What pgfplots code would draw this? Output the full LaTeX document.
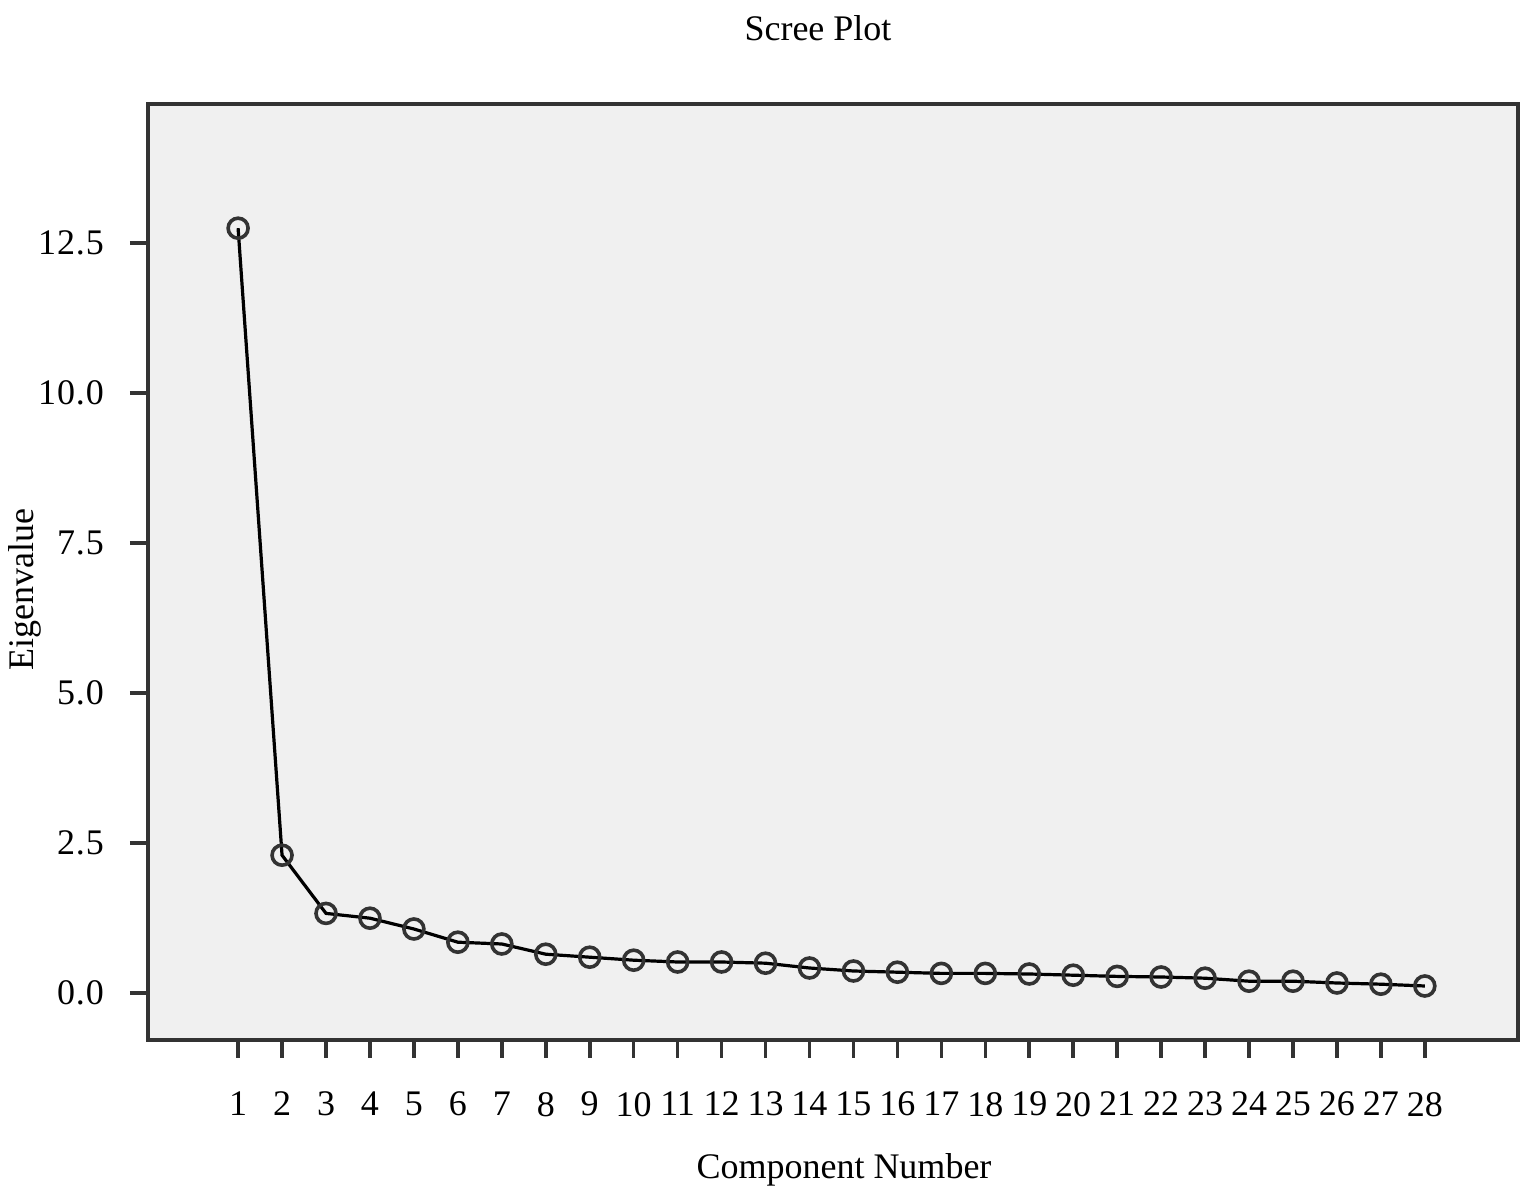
\documentclass[border=0pt]{standalone}
\usepackage{fontspec}
\setmainfont{Liberation Serif}
\usepackage{pgfplots}
\pgfplotsset{compat=1.18}
\definecolor{panel}{HTML}{F0F0F0}
\definecolor{edge}{HTML}{333333}

\begin{document}
\begin{tikzpicture}
\begin{axis}[
  name=ax,
  scale only axis,
  width=342.5pt, height=234pt,
  xmin=-1.05, xmax=30.12,
  ymin=-0.78, ymax=14.82,
  xtick={1,...,28},
  ytick={0,2.5,5,7.5,10,12.5},
  /pgf/number format/assume math mode=true,
  tick align=outside,
  major tick length=4.5pt,
  xtick pos=bottom, ytick pos=left,
  tick style={line width=0.9pt, edge},
  axis line style={line width=1pt, edge},
  axis background/.style={fill=panel},
  xticklabel style={font=\fontsize{9}{11}\selectfont},
  yticklabel style={font=\fontsize{9}{11}\selectfont\addfontfeature{LetterSpace=2.5},
    /pgf/number format/.cd, fixed, fixed zerofill, precision=1},
  xticklabel shift=5pt,
  yticklabel shift=3pt,
  clip=false,
]
\addplot[black, line width=0.8pt, mark=o, mark size=2.5pt,
  mark options={edge, line width=0.9pt}] coordinates {
  (1,12.75) (2,2.30) (3,1.33) (4,1.25) (5,1.07) (6,0.85) (7,0.82)
  (8,0.65) (9,0.60) (10,0.55) (11,0.52) (12,0.52) (13,0.50) (14,0.42)
  (15,0.37) (16,0.35) (17,0.33) (18,0.33) (19,0.32) (20,0.30) (21,0.28)
  (22,0.27) (23,0.25) (24,0.20) (25,0.20) (26,0.17) (27,0.15) (28,0.12)
};
\end{axis}
% labels and fixed page frame
\node[inner sep=0pt, font=\fontsize{9}{11}\selectfont] at ([xshift=167.5pt,yshift=19pt]ax.north west) {Scree Plot};
\node[inner sep=0pt, font=\fontsize{9}{11}\selectfont, rotate=90] at ([xshift=-30.75pt,yshift=-4.5pt]ax.west) {Eigenvalue};
\node[inner sep=0pt, font=\fontsize{9}{11}\selectfont] at ([xshift=174pt,yshift=-32.5pt]ax.south west) {Component Number};
\path ([xshift=-37pt,yshift=-39.5pt]ax.south west) rectangle ([xshift=3.25pt,yshift=26pt]ax.north east);
\end{tikzpicture}
\end{document}
